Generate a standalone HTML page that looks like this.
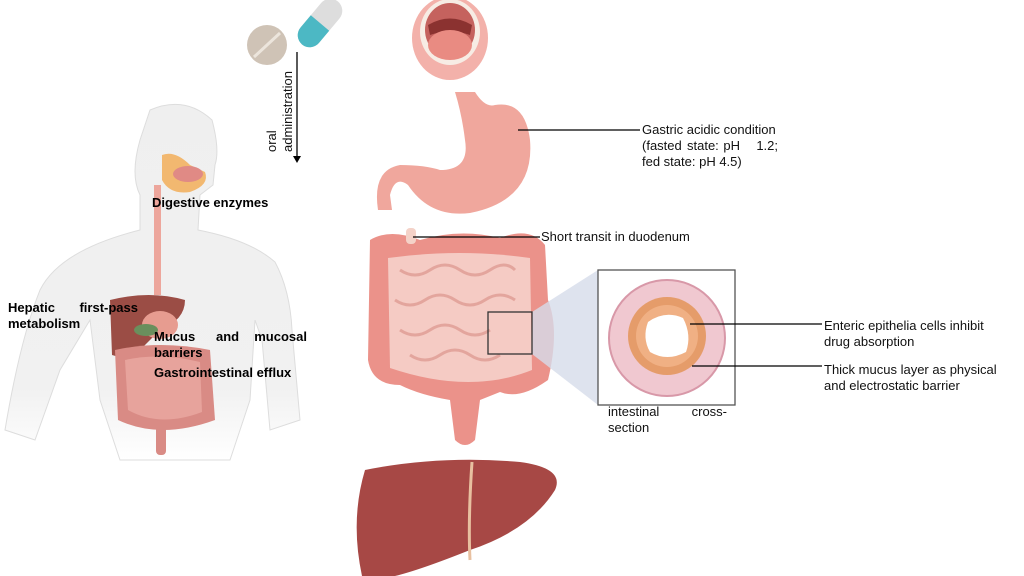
<!DOCTYPE html>
<html><head><style>
body{margin:0;background:#fff;}
svg{display:block;}
text{font-family:"Liberation Sans",Arial,sans-serif;}
.b{font-weight:bold;font-size:13px;fill:#000;}
.n{font-size:13px;fill:#111;}
</style></head><body>
<svg width="1024" height="576" viewBox="0 0 1024 576" xmlns="http://www.w3.org/2000/svg">
<defs>
<linearGradient id="fade" x1="0" y1="0" x2="0" y2="1">
<stop offset="0" stop-color="#efefef"/><stop offset="0.8" stop-color="#f1f1f1"/><stop offset="1" stop-color="#fff"/>
</linearGradient>
</defs>
<!-- body -->
<path d="M150 110 Q185 95 212 120 Q220 150 215 165 L213 185 L200 195 L198 230 Q250 240 275 262 Q290 290 292 330 L300 420 L270 430 L262 340 L255 320 L250 400 L230 460 L120 460 L100 400 L90 320 L60 370 L35 440 L5 430 Q20 340 40 290 Q60 250 140 230 L140 195 Q130 175 140 140 Z" fill="url(#fade)" stroke="#ddd" stroke-width="1"/>
<path d="M162 155 Q175 150 190 165 L205 172 Q210 185 190 192 Q170 195 162 180 Z" fill="#f2b870"/>
<ellipse cx="188" cy="174" rx="15" ry="8" fill="#e08a85"/>
<rect x="154" y="185" width="7" height="110" fill="#eda69c"/>
<path d="M110 300 Q150 290 185 300 Q185 320 160 330 L130 360 L112 355 Z" fill="#9b4d45"/>
<ellipse cx="160" cy="325" rx="18" ry="14" fill="#e79c90"/>
<ellipse cx="146" cy="330" rx="12" ry="6" fill="#6a8f5d"/>
<path d="M115 350 Q160 340 210 350 L215 420 Q160 440 118 420 Z" fill="#d98b85"/>
<path d="M125 360 Q160 352 200 362 L202 412 Q160 428 128 410 Z" fill="#e7a39c"/>
<rect x="156" y="420" width="10" height="35" rx="4" fill="#d98b85"/>
<text class="b" x="152" y="207">Digestive enzymes</text>
<text class="b" x="8" y="312">Hepatic</text>
<text class="b" x="138" y="312" text-anchor="end">first-pass</text>
<text class="b" x="8" y="328">metabolism</text>
<text class="b" x="154" y="341">Mucus</text>
<text class="b" x="216" y="341">and</text>
<text class="b" x="307" y="341" text-anchor="end">mucosal</text>
<text class="b" x="154" y="357">barriers</text>
<text class="b" x="154" y="377">Gastrointestinal efflux</text>
<!-- pills -->
<circle cx="267" cy="45" r="20" fill="#cfc3b6"/>
<line x1="254" y1="57" x2="280" y2="33" stroke="#ece5dc" stroke-width="3"/>
<g transform="rotate(40 320 23)">
<rect x="308" y="-5" width="24" height="56" rx="12" fill="#ddd"/>
<path d="M308 23 L332 23 L332 39 A12 12 0 0 1 308 39 Z" fill="#4cb8c4"/>
</g>
<line x1="297" y1="52" x2="297" y2="158" stroke="#000" stroke-width="1.3"/>
<polygon points="293,156 301,156 297,163" fill="#000"/>
<text class="n" transform="translate(276 152) rotate(-90)">oral</text>
<text class="n" transform="translate(292 152) rotate(-90)">administration</text>
<!-- mouth -->
<ellipse cx="450" cy="38" rx="38" ry="42" fill="#f3b1aa"/>
<ellipse cx="450" cy="32" rx="30" ry="33" fill="#f7ece4"/>
<ellipse cx="450" cy="30" rx="25" ry="27" fill="#c5625e"/>
<path d="M428 25 Q450 12 472 25 L470 35 Q450 28 430 35 Z" fill="#8b3230"/>
<ellipse cx="450" cy="45" rx="22" ry="15" fill="#e98b82"/>
<!-- stomach -->
<path d="M455 92 L475 92 Q485 108 495 105 Q525 100 530 140 Q535 200 470 213 Q430 218 408 185 Q395 175 390 195 L392 210 L378 210 Q372 170 400 165 Q425 165 440 170 Q470 170 465 140 Q462 115 455 92 Z" fill="#f0a79d"/>
<line x1="518" y1="130" x2="640" y2="130" stroke="#000" stroke-width="1.3"/>
<text class="n" x="642" y="134">Gastric acidic condition</text>
<text class="n" x="642" y="150">(fasted</text>
<text class="n" x="687" y="150">state:</text>
<text class="n" x="740" y="150" text-anchor="end">pH</text>
<text class="n" x="778" y="150" text-anchor="end">1.2;</text>
<text class="n" x="642" y="166">fed state: pH 4.5)</text>
<!-- intestines -->
<path d="M370 240 Q390 228 420 240 Q460 228 500 238 Q530 226 545 245 L548 300 Q560 330 548 380 Q520 400 500 392 L480 400 L475 440 Q465 450 455 440 L450 400 Q420 395 400 385 Q372 385 368 360 Z" fill="#eb928a"/>
<path d="M388 258 Q460 248 530 258 L532 370 Q470 395 390 368 Z" fill="#f5cbc4"/>
<path d="M400 270 q15 10 30 0 q15 -10 30 0 q15 10 30 0 q15-10 25 0 M395 300 q15 10 30 0 q15 -10 30 0 q15 10 30 0 q15-10 30 0 M400 330 q15 10 30 0 q15 -10 30 0 q15 10 30 0 M410 355 q15 10 30 0 q15 -10 30 0 q15 10 30 0" stroke="#e3a59d" stroke-width="3" fill="none"/>
<rect x="406" y="228" width="10" height="16" rx="4" fill="#f4d2c8"/>
<line x1="413" y1="237" x2="540" y2="237" stroke="#000" stroke-width="1.3"/>
<text class="n" x="541" y="241">Short transit in duodenum</text>
<polygon points="532,312 598,270 598,405 532,354" fill="#d6dcea" opacity="0.8"/>
<rect x="488" y="312" width="44" height="42" fill="none" stroke="#333" stroke-width="1.3"/>
<rect x="598" y="270" width="137" height="135" fill="#fff" stroke="#555" stroke-width="1.3"/>
<circle cx="667" cy="338" r="58" fill="#f0c8d0" stroke="#d898a8" stroke-width="2"/>
<circle cx="667" cy="336" r="39" fill="#e59c6a"/>
<circle cx="667" cy="336" r="31" fill="#f0b084"/>
<path d="M648 322 Q665 310 683 318 Q692 335 686 352 Q667 362 650 352 Q642 338 648 322 Z" fill="#fff"/>
<line x1="690" y1="324" x2="822" y2="324" stroke="#000" stroke-width="1.3"/>
<line x1="692" y1="366" x2="822" y2="366" stroke="#000" stroke-width="1.3"/>
<text class="n" x="824" y="330">Enteric epithelia cells inhibit</text>
<text class="n" x="824" y="346">drug absorption</text>
<text class="n" x="824" y="374">Thick mucus layer as physical</text>
<text class="n" x="824" y="390">and electrostatic barrier</text>
<text class="n" x="608" y="416">intestinal</text>
<text class="n" x="727" y="416" text-anchor="end">cross-</text>
<text class="n" x="608" y="432">section</text>
<!-- liver -->
<path d="M365 470 Q440 455 520 462 Q565 468 555 490 Q530 530 470 550 Q420 570 395 576 L362 576 Q350 520 365 470 Z" fill="#a74845"/>
<path d="M472 462 Q468 520 470 560" stroke="#e8c0a0" stroke-width="3" fill="none"/>
</svg>
</body></html>
